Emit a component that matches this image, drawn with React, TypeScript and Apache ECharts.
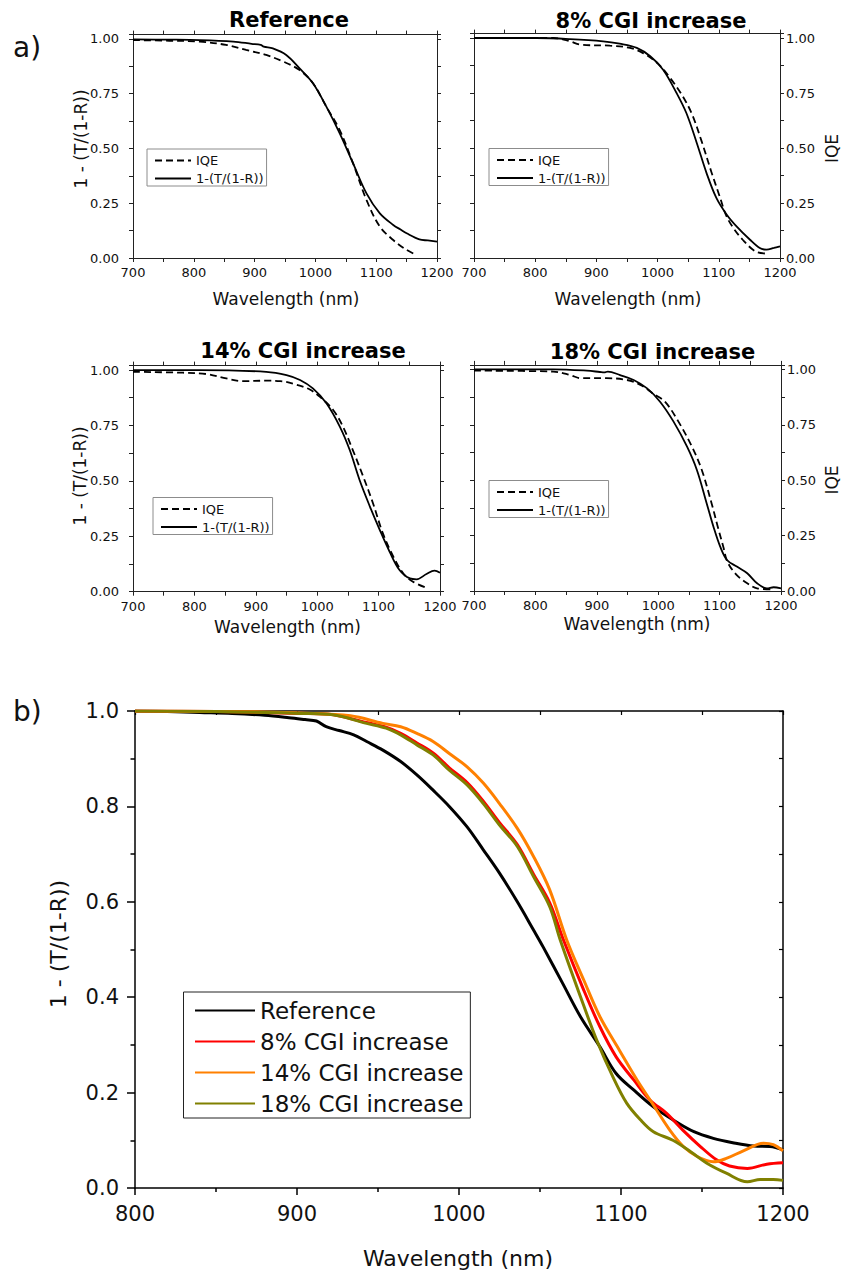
import React, { useEffect, useRef } from 'react';
import * as echarts from 'echarts';

const FONT = 'DejaVu Sans';

// ---------- Panel a data (wavelength nm, value) ----------
const refIQE = [[700,0.995],[760,0.992],[810,0.988],[853,0.973],[886,0.95],[919,0.927],[947,0.897],[974,0.858],[996,0.798],[1018,0.691],[1040,0.584],[1062,0.432],[1084,0.265],[1106,0.143],[1128,0.082],[1150,0.037],[1166,0.014]];
const refAbs = [[700,0.998],[760,0.997],[810,0.995],[865,0.988],[895,0.978],[910,0.973],[915,0.965],[930,0.957],[952,0.927],[974,0.866],[996,0.798],[1018,0.691],[1040,0.569],[1062,0.432],[1084,0.295],[1106,0.204],[1128,0.151],[1140,0.13],[1150,0.113],[1171,0.085],[1185,0.08],[1200,0.075]];
const cgi8IQE = [[700,1.0],[830,1.0],[857,0.985],[873,0.97],[922,0.965],[955,0.955],[977,0.93],[1000,0.885],[1020,0.82],[1040,0.74],[1056,0.655],[1072,0.53],[1088,0.39],[1102,0.275],[1111,0.2],[1122,0.144],[1139,0.083],[1160,0.03],[1178,0.02]];
const cgi8Abs = [[700,1.0],[802,1.0],[857,0.995],[911,0.985],[938,0.974],[966,0.955],[988,0.917],[1009,0.856],[1031,0.75],[1047,0.659],[1064,0.523],[1080,0.386],[1096,0.273],[1113,0.197],[1129,0.144],[1151,0.083],[1167,0.045],[1178,0.038],[1190,0.046],[1200,0.053]];
const cgi14IQE = [[700,0.992],[781,0.988],[819,0.982],[852,0.962],[879,0.95],[917,0.952],[940,0.95],[965,0.935],[988,0.912],[1004,0.88],[1026,0.82],[1042,0.744],[1058,0.639],[1075,0.519],[1091,0.398],[1107,0.263],[1124,0.158],[1140,0.083],[1156,0.045],[1180,0.015]];
const cgi14Abs = [[700,1.0],[809,1.0],[917,0.992],[950,0.977],[972,0.955],[993,0.917],[1015,0.85],[1037,0.744],[1053,0.639],[1069,0.504],[1086,0.383],[1102,0.278],[1118,0.18],[1134,0.098],[1151,0.06],[1162,0.056],[1178,0.08],[1191,0.095],[1200,0.085]];
const cgi18IQE = [[700,0.994],[829,0.99],[857,0.974],[873,0.96],[916,0.96],[949,0.952],[971,0.93],[992,0.89],[1011,0.854],[1033,0.764],[1055,0.651],[1071,0.546],[1087,0.395],[1097,0.29],[1106,0.2],[1113,0.13],[1128,0.072],[1145,0.035],[1161,0.012],[1183,0.008]];
const cgi18Abs = [[700,1.0],[829,1.0],[884,0.994],[905,0.988],[912,0.986],[918,0.99],[938,0.974],[960,0.952],[982,0.914],[1003,0.854],[1025,0.764],[1047,0.651],[1063,0.546],[1079,0.395],[1090,0.29],[1101,0.2],[1112,0.14],[1128,0.11],[1145,0.08],[1161,0.035],[1177,0.012],[1188,0.017],[1200,0.012]];

// ---------- Panel b data ----------
const bReference = [[800,1.0],[820,0.999],[840,0.997],[860,0.995],[880,0.991],[895,0.986],[905,0.982],[912,0.979],[918,0.967],[926,0.959],[935,0.95],[943,0.936],[953,0.918],[964,0.894],[974,0.866],[984,0.834],[994,0.8],[1005,0.757],[1015,0.709],[1025,0.66],[1036,0.6],[1046,0.541],[1052,0.505],[1064,0.429],[1075,0.359],[1087,0.296],[1097,0.24],[1108,0.205],[1120,0.17],[1132,0.143],[1145,0.118],[1157,0.104],[1169,0.095],[1182,0.088],[1192,0.087],[1200,0.08]];
const b8 = [[800,1.0],[850,0.999],[880,0.997],[900,0.995],[920,0.993],[940,0.978],[955,0.966],[964,0.953],[974,0.933],[984,0.912],[994,0.881],[1005,0.85],[1015,0.811],[1025,0.766],[1036,0.72],[1046,0.658],[1056,0.598],[1064.5,0.52],[1077,0.415],[1087,0.338],[1097,0.275],[1108,0.226],[1118,0.184],[1128,0.157],[1138,0.122],[1149,0.087],[1159,0.059],[1167,0.046],[1178,0.041],[1190,0.05],[1200,0.053]];
const b14 = [[800,1.0],[850,0.999],[880,0.998],[902,0.996],[933,0.99],[953,0.974],[964,0.967],[974,0.953],[984,0.936],[994,0.911],[1005,0.883],[1015,0.849],[1025,0.806],[1036,0.754],[1046,0.695],[1056,0.625],[1066.5,0.52],[1077,0.436],[1087,0.359],[1099,0.289],[1110,0.226],[1120,0.174],[1130,0.122],[1138.5,0.087],[1147,0.066],[1157,0.055],[1165,0.062],[1175.5,0.078],[1188,0.094],[1194,0.091],[1200,0.078]];
const b18 = [[800,1.0],[850,0.999],[880,0.997],[902,0.995],[922,0.992],[943,0.974],[955,0.964],[964,0.95],[974,0.929],[984,0.908],[994,0.876],[1005,0.845],[1015,0.806],[1025,0.761],[1036,0.716],[1046,0.653],[1056,0.59],[1062.5,0.52],[1075,0.401],[1085,0.31],[1095,0.233],[1103.5,0.178],[1112,0.143],[1120,0.118],[1132,0.1],[1143,0.076],[1153,0.052],[1165,0.031],[1178,0.013],[1186,0.018],[1194,0.018],[1200,0.016]];

const panelTitles = ['Reference', '8% CGI increase', '14% CGI increase', '18% CGI increase'];
const legendANames = ['IQE', '1-(T/(1-R))'];
const legendBNames = ['Reference', '8% CGI increase', '14% CGI increase', '18% CGI increase'];
const bColors = ['#000000', '#ff0000', '#ff8000', '#808000'];
const bSeries = [bReference, b8, b14, b18];
const aSeries = [
  [refIQE, refAbs],
  [cgi8IQE, cgi8Abs],
  [cgi14IQE, cgi14Abs],
  [cgi18IQE, cgi18Abs],
];

// layout
const aGrids = [
  { left: 133, top: 34.6, width: 304, height: 223.4 },
  { left: 474, top: 33.6, width: 306, height: 224.4 },
  { left: 133, top: 365.6, width: 307, height: 226.1 },
  { left: 474, top: 364.9, width: 307, height: 226.1 },
];
const bGrid = { left: 135, top: 711, width: 648, height: 477 };
const aLegendPos = [
  { left: 147, top: 149 },
  { left: 489, top: 148.5 },
  { left: 153, top: 497.5 },
  { left: 489, top: 480.5 },
];
const titlePos = [
  [289, 19.5],
  [651, 20.5],
  [303, 350.5],
  [652.5, 352],
];
const xNamePos = [
  [286, 299],
  [628, 299],
  [287.5, 627],
  [637, 624],
];
const yNamePos = [
  [81, 139, '1 - (T/(1-R))'],
  [831.7, 148.5, 'IQE'],
  [80, 476, '1 - (T/(1-R))'],
  [831.7, 480, 'IQE'],
];

const AX = '#222';
const isMult = (v: number, step: number) => {
  const q = v / step;
  return Math.abs(q - Math.round(q)) < 1e-6;
};
const SMOOTH = 0.35;

function buildOption() {
  const grid: any[] = [];
  const xAxis: any[] = [];
  const yAxis: any[] = [];
  const series: any[] = [];
  const legend: any[] = [];
  const graphic: any[] = [];

  aGrids.forEach((g, i) => {
    grid.push({ ...g, containLabel: false });
    const rightPanel = i % 2 === 1;
    const common = {
      type: 'value',
      gridIndex: i,
      splitLine: { show: false },
      axisLine: { show: true, onZero: false, lineStyle: { color: AX, width: 1 } },
      axisTick: { show: true, inside: false, length: 4, lineStyle: { color: AX, width: 1 } },
    };
    xAxis.push({
      ...common,
      position: 'bottom',
      min: 700,
      max: 1200,
      interval: 50,
      axisLabel: {
        show: true,
        margin: 8,
        fontFamily: FONT,
        fontSize: 13,
        color: '#111',
        formatter: (v: number) => (isMult(v, 100) ? String(Math.round(v)) : ''),
      },
    });
    xAxis.push({
      ...common,
      position: 'top',
      min: 700,
      max: 1200,
      interval: 50,
      axisLabel: { show: false },
    });
    const yLab = (show: boolean, margin: number) => ({
      show,
      margin,
      fontFamily: FONT,
      fontSize: 13,
      color: '#111',
      formatter: (v: number) => (isMult(v, 0.25) ? v.toFixed(2) : ''),
    });
    yAxis.push({
      ...common,
      position: 'left',
      min: 0,
      max: 1.02,
      interval: 0.125,
      axisLabel: yLab(!rightPanel, 14),
    });
    yAxis.push({
      ...common,
      position: 'right',
      min: 0,
      max: 1.02,
      interval: 0.125,
      axisLabel: yLab(rightPanel, 6),
    });

    const [iqe, abs] = aSeries[i];
    series.push({
      type: 'line',
      name: 'IQE',
      xAxisIndex: 2 * i,
      yAxisIndex: 2 * i,
      data: iqe,
      symbol: 'none',
      showSymbol: false,
      smooth: SMOOTH,
      lineStyle: { color: '#000', width: 1.8, type: [7, 4] },
      itemStyle: { color: '#000' },
    });
    series.push({
      type: 'line',
      name: '1-(T/(1-R))',
      xAxisIndex: 2 * i,
      yAxisIndex: 2 * i,
      data: abs,
      symbol: 'none',
      showSymbol: false,
      smooth: SMOOTH,
      lineStyle: { color: '#000', width: 1.8, type: 'solid' },
      itemStyle: { color: '#000' },
    });

    legend.push({
      ...aLegendPos[i],
      orient: 'vertical',
      data: legendANames,
      itemWidth: 36,
      itemHeight: 14,
      itemGap: 5,
      padding: [5, 3, 1, 7],
      borderColor: '#8c8c8c',
      borderWidth: 1,
      backgroundColor: '#fff',
      selectedMode: false,
      itemStyle: { opacity: 0 },
      textStyle: { fontFamily: FONT, fontSize: 13, color: '#111' },
    });

    graphic.push({
      type: 'text',
      x: titlePos[i][0],
      y: titlePos[i][1],
      style: {
        text: panelTitles[i],
        fontFamily: FONT,
        fontSize: 21,
        fontWeight: 'bold',
        fill: '#000',
        align: 'center',
        verticalAlign: 'middle',
      },
    });
    graphic.push({
      type: 'text',
      x: xNamePos[i][0],
      y: xNamePos[i][1],
      style: {
        text: 'Wavelength (nm)',
        fontFamily: FONT,
        fontSize: 17,
        fill: '#111',
        align: 'center',
        verticalAlign: 'middle',
      },
    });
    graphic.push({
      type: 'text',
      x: yNamePos[i][0] as number,
      y: yNamePos[i][1] as number,
      rotation: Math.PI / 2,
      style: {
        text: yNamePos[i][2] as string,
        fontFamily: FONT,
        fontSize: 17,
        fill: '#111',
        align: 'center',
        verticalAlign: 'middle',
      },
    });
  });

  // Panel b
  const bi = 4;
  grid.push({ ...bGrid, containLabel: false });
  const bAxisLine = { show: true, onZero: false, lineStyle: { color: '#000', width: 1.5 } };
  xAxis.push({
    type: 'value',
    gridIndex: bi,
    position: 'bottom',
    min: 800,
    max: 1200,
    interval: 100,
    splitLine: { show: false },
    axisLine: bAxisLine,
    axisTick: { show: true, inside: false, length: 7, lineStyle: { color: '#000', width: 1.5 } },
    minorTick: { show: true, splitNumber: 2, length: 4, lineStyle: { color: '#000', width: 1.5 } },
    axisLabel: {
      margin: 15,
      fontFamily: FONT,
      fontSize: 21,
      color: '#111',
      formatter: (v: number) => String(Math.round(v)),
    },
  });
  xAxis.push({
    type: 'value',
    gridIndex: bi,
    position: 'top',
    min: 800,
    max: 1200,
    interval: 50,
    splitLine: { show: false },
    axisLine: bAxisLine,
    axisTick: { show: true, inside: true, length: 4, lineStyle: { color: '#000', width: 1.2 } },
    axisLabel: { show: false },
  });
  yAxis.push({
    type: 'value',
    gridIndex: bi,
    position: 'left',
    min: 0,
    max: 1,
    interval: 0.2,
    splitLine: { show: false },
    axisLine: bAxisLine,
    axisTick: { show: true, inside: false, length: 8, lineStyle: { color: '#000', width: 1.5 } },
    minorTick: { show: true, splitNumber: 2, length: 4.5, lineStyle: { color: '#000', width: 1.5 } },
    axisLabel: {
      margin: 16,
      fontFamily: FONT,
      fontSize: 21,
      color: '#111',
      formatter: (v: number) => v.toFixed(1),
    },
  });
  yAxis.push({
    type: 'value',
    gridIndex: bi,
    position: 'right',
    min: 0,
    max: 1,
    interval: 0.1,
    splitLine: { show: false },
    axisLine: bAxisLine,
    axisTick: { show: true, inside: true, length: 4, lineStyle: { color: '#000', width: 1.2 } },
    axisLabel: { show: false },
  });
  bSeries.forEach((d, k) => {
    series.push({
      type: 'line',
      name: legendBNames[k],
      xAxisIndex: 2 * bi,
      yAxisIndex: 2 * bi,
      data: d,
      symbol: 'none',
      showSymbol: false,
      smooth: SMOOTH,
      lineStyle: { color: bColors[k], width: 3 },
      itemStyle: { color: bColors[k] },
    });
  });
  legend.push({
    left: 183.5,
    top: 992,
    orient: 'vertical',
    data: legendBNames,
    itemWidth: 60,
    itemHeight: 14,
    itemGap: 8,
    padding: [7, 7, 3, 10.5],
    borderColor: '#222',
    borderWidth: 1,
    backgroundColor: '#fff',
    selectedMode: false,
    itemStyle: { opacity: 0 },
    textStyle: { fontFamily: FONT, fontSize: 23, color: '#111' },
  });
  graphic.push({
    type: 'text',
    x: 458,
    y: 1258,
    style: { text: 'Wavelength (nm)', fontFamily: FONT, fontSize: 22, fill: '#111', align: 'center', verticalAlign: 'middle' },
  });
  graphic.push({
    type: 'text',
    x: 58,
    y: 944,
    rotation: Math.PI / 2,
    style: { text: '1 - (T/(1-R))', fontFamily: FONT, fontSize: 22, fill: '#111', align: 'center', verticalAlign: 'middle' },
  });
  graphic.push({
    type: 'text',
    x: 13,
    y: 47,
    style: { text: 'a)', fontFamily: FONT, fontSize: 28, fill: '#111', align: 'left', verticalAlign: 'middle' },
  });
  graphic.push({
    type: 'text',
    x: 13,
    y: 711,
    style: { text: 'b)', fontFamily: FONT, fontSize: 28, fill: '#111', align: 'left', verticalAlign: 'middle' },
  });

  return {
    animation: false,
    backgroundColor: '#ffffff',
    grid,
    xAxis,
    yAxis,
    series,
    legend,
    graphic,
  };
}

export default function App() {
  const ref = useRef<HTMLDivElement>(null);
  useEffect(() => {
    if (!ref.current) return;
    const chart = echarts.init(ref.current, null, { renderer: 'svg' });
    chart.setOption(buildOption() as any);
    return () => chart.dispose();
  }, []);
  return (
    <div
      ref={ref}
      style={{ position: 'absolute', left: 0, top: 0, width: 842, height: 1273, background: '#fff' }}
    />
  );
}
